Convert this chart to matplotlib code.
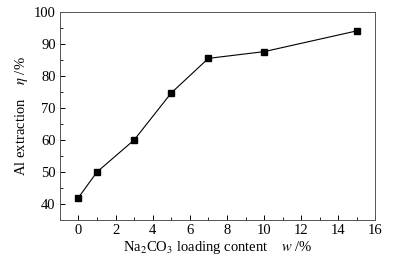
import matplotlib
matplotlib.use('Agg')
import matplotlib.pyplot as plt
from matplotlib.ticker import MultipleLocator

# Na2CO3 loading (%) vs Al extraction (%)
loading = [0, 1, 3, 5, 7, 10, 15]
extraction = [42.0, 50.0, 60.0, 74.7, 85.5, 87.6, 94.1]

plt.rcParams['font.family'] = ['Liberation Serif', 'DejaVu Serif']
plt.rcParams['mathtext.fontset'] = 'stix'
plt.rcParams['font.size'] = 10.5

fig = plt.figure(figsize=(3.94, 2.6), dpi=100)
ax = fig.add_axes([0.152, 0.154, 0.801, 0.80])

ax.plot(loading, extraction, color='black', lw=0.8, marker='s', ms=4.5,
        markerfacecolor='black')

ax.set_xlim(-1, 16)
ax.set_ylim(35, 100)
ax.xaxis.set_major_locator(MultipleLocator(2))
ax.xaxis.set_minor_locator(MultipleLocator(1))
ax.yaxis.set_major_locator(MultipleLocator(10))
ax.yaxis.set_minor_locator(MultipleLocator(5))
ax.tick_params(which='both', direction='in', top=False, right=False)
ax.tick_params(which='major', length=3.5, width=0.7, pad=3)
ax.tick_params(which='minor', length=2, width=0.6)
for s in ax.spines.values():
    s.set_linewidth(0.7)
    s.set_color('#555555')

ax.set_xlabel(r'Na$_2$CO$_3$ loading content    $w$ /%', labelpad=1)
ax.set_ylabel(r'Al extraction    $\eta$ /%', labelpad=3)

fig.savefig('out.png', dpi=100)
